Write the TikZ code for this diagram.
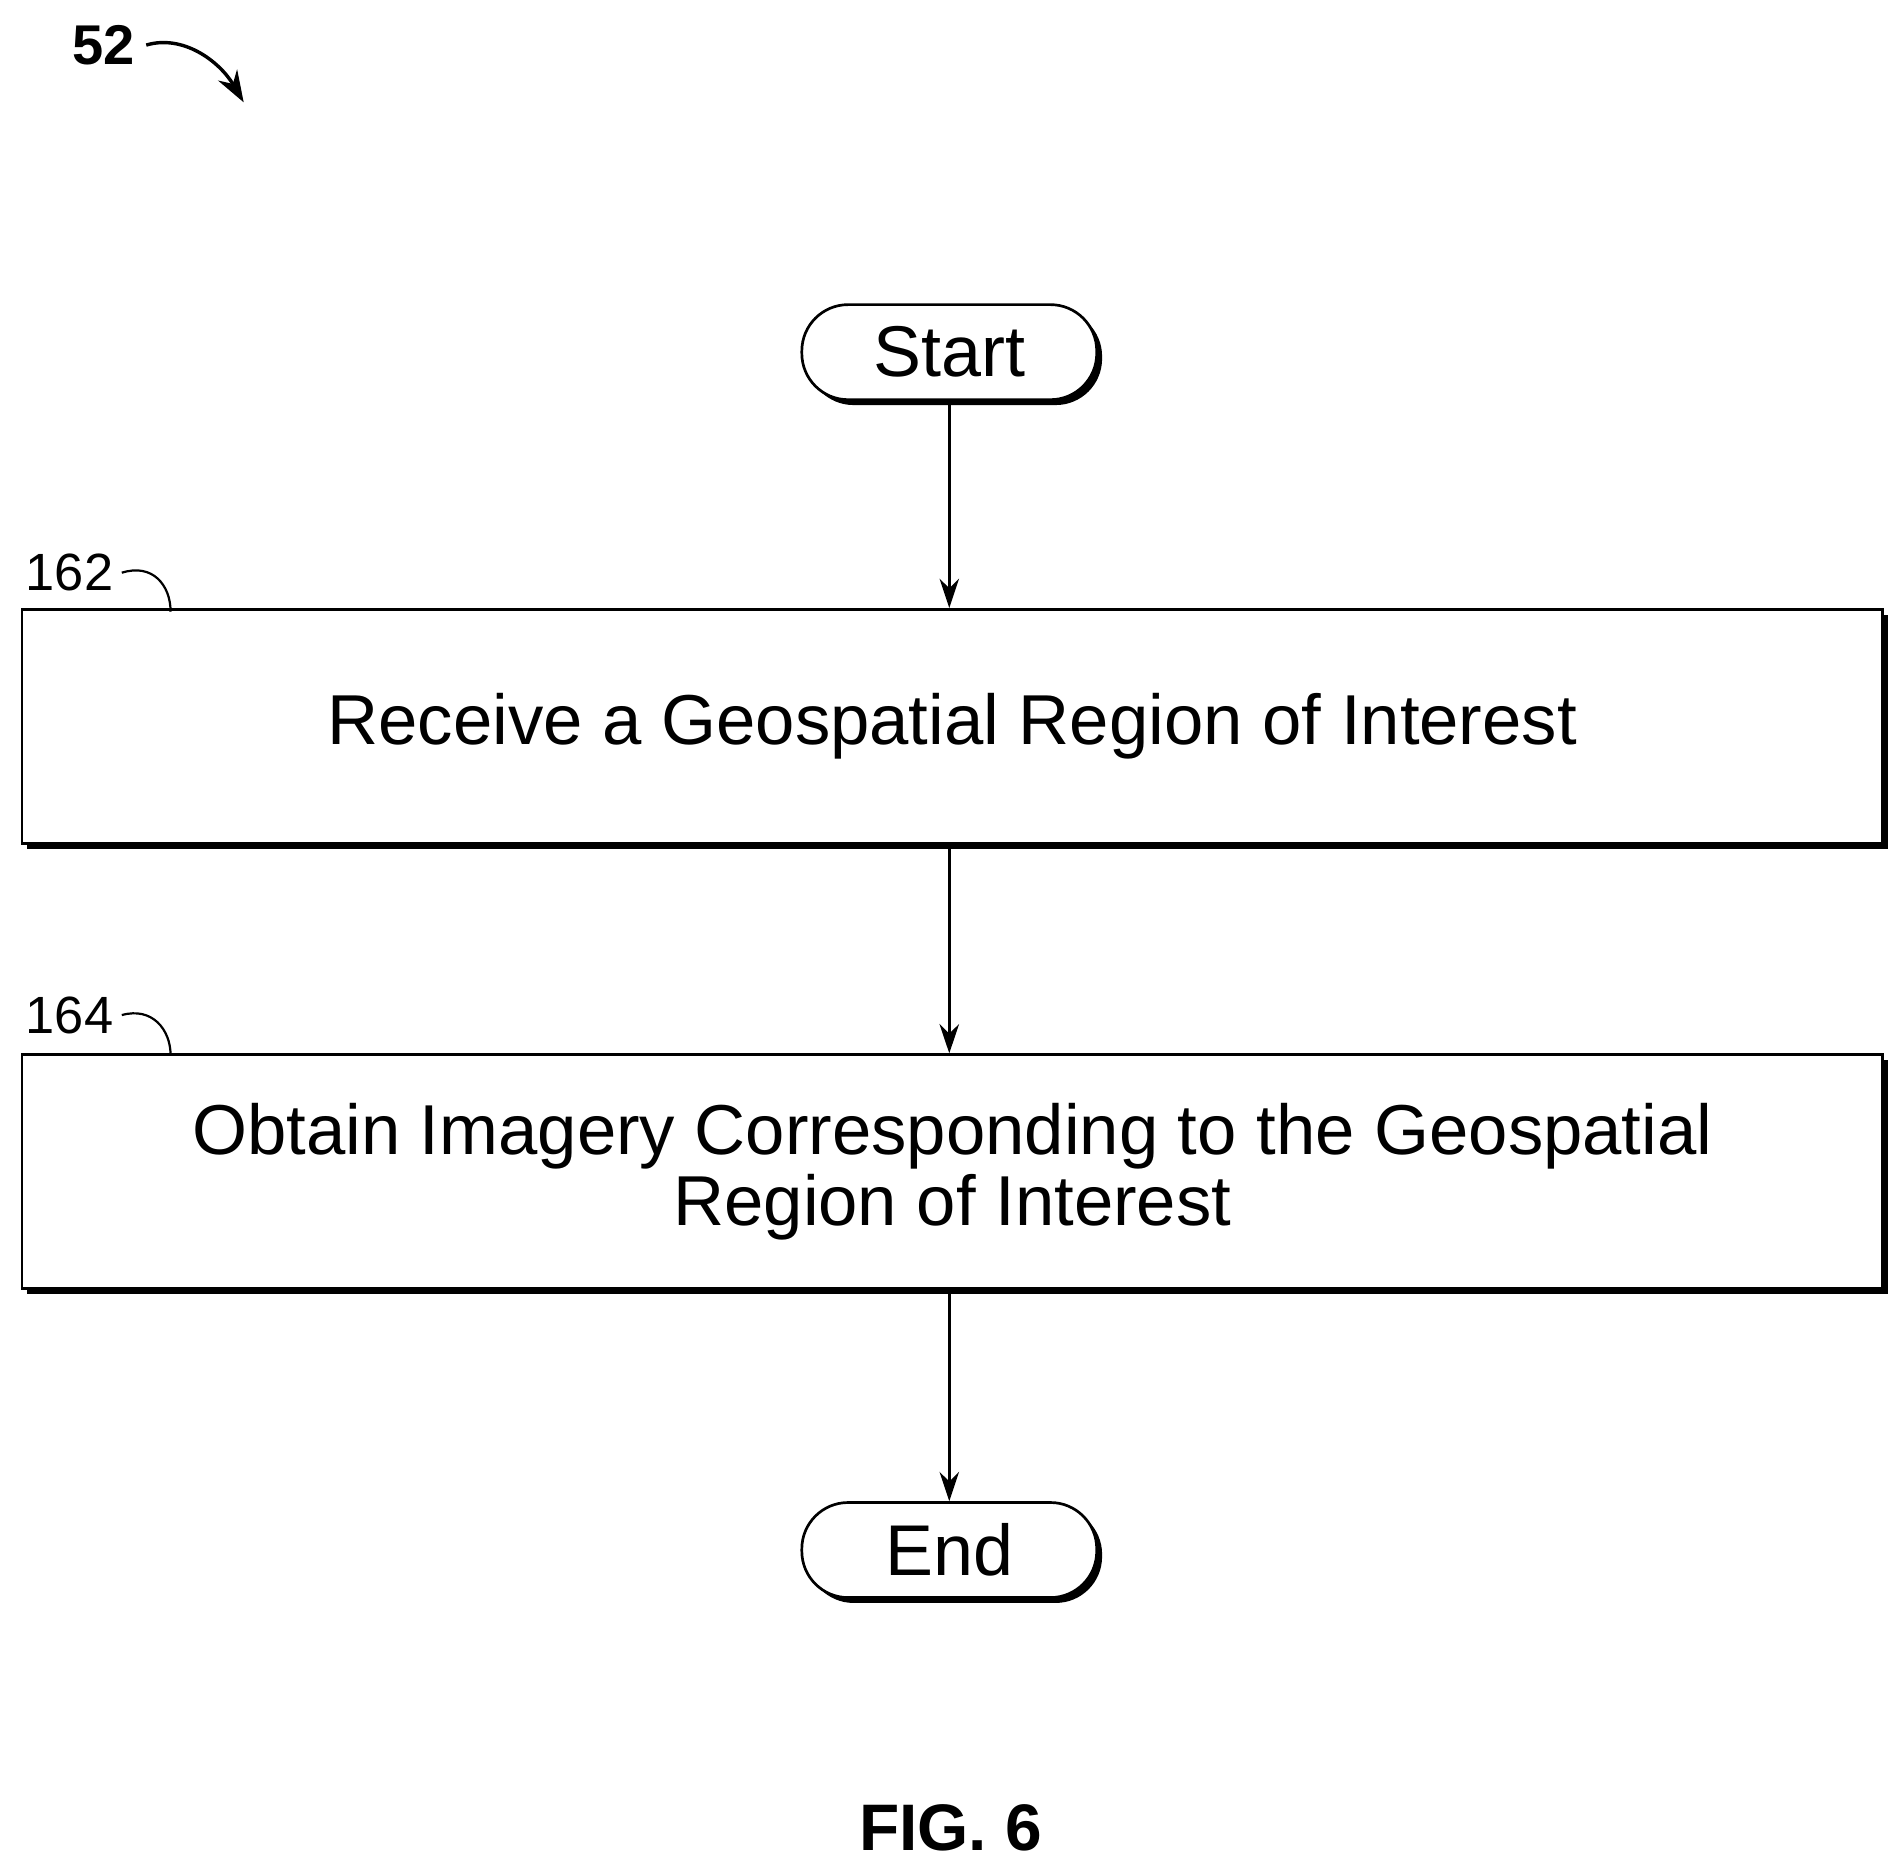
\documentclass[tikz,border=0pt]{standalone}
\usepackage{fontspec}
\setmainfont{Liberation Sans}
\usetikzlibrary{shadows,arrows.meta}
\begin{document}
\begin{tikzpicture}[x=0.5pt,y=-0.5pt,
  sh/.style={draw, line width=1.1pt, fill=white, inner sep=0pt,
    general shadow={fill=black, shadow xshift=2.2pt, shadow yshift=-2.2pt}},
  box/.style={sh, minimum width=763.5pt, minimum height=96pt, align=center,
    font=\fontsize{29}{29}\selectfont},
  term/.style={sh, rounded corners=19pt, minimum width=121pt, minimum height=39pt,
    font=\fontsize{29.5}{29}\selectfont},
  arr/.style={line width=1.1pt, -{Stealth[length=12pt,width=8pt]}},
  lbl/.style={font=\fontsize{21.5}{22}\selectfont},
  lead/.style={line width=0.9pt}]
\useasboundingbox (0,0) rectangle (1560,1530);
\node[font=\bfseries\fontsize{23}{23}\selectfont] (n52) at (85,37) {52};
\coordinate (a52s) at (120,37);
\coordinate (a52e) at (200,84);
\draw[line width=1.4pt,-{Stealth[length=13pt,width=9pt]}] (a52s) .. controls (150,28) and (180,50) .. (a52e);
\node[term] (start) at (779,289) {Start};
\node[box] (b1) at (781.5,596) {Receive a Geospatial Region of Interest};
\node[box] (b2) at (781.5,961.5) {Obtain Imagery Corresponding to the Geospatial\\Region of Interest};
\node[term] (end) at (779,1272) {End};
\draw[arr] (start) -- (start|-b1.north);
\draw[arr] (b1.south-|start) -- (b2.north-|start);
\draw[arr] (b2.south-|start) -- (end);
\node[lbl] (l162) at (57,470) {162};
\coordinate (c162) at (140,502);
\draw[lead] (l162.east) .. controls (125,462) and (140,480) .. (c162);
\node[lbl] (l164) at (57,833) {164};
\coordinate (c164) at (140,866);
\draw[lead] (l164.east) .. controls (125,826) and (140,845) .. (c164);
\node[font=\bfseries\fontsize{27}{27}\selectfont] (fig) at (780,1500) {FIG. 6};
\end{tikzpicture}
\end{document}
